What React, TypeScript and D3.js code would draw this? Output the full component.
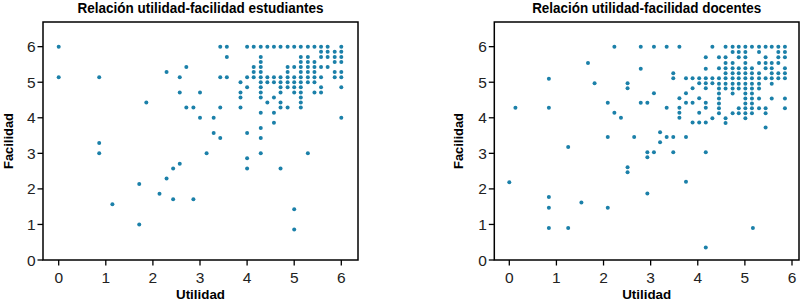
import React from "react";
import * as d3 from "d3";

// Estudiantes: [Utilidad, Facilidad]
const studentPoints: [number, number][] = [
  [0, 6], [0, 5.14], [0.86, 5.14], [0.86, 3.29], [0.86, 3.0], [1.14, 1.57], [1.71, 2.14], [1.71, 1.0],
  [1.86, 4.43], [2.14, 1.86], [2.29, 5.29], [2.29, 2.29], [2.43, 2.57], [2.43, 1.71], [2.57, 5.14],
  [2.57, 4.71], [2.57, 2.71], [2.71, 5.43], [2.71, 4.29], [2.86, 4.29], [2.86, 1.71], [3.0, 4.71],
  [3.0, 4.0], [3.14, 3.0], [3.29, 4.0], [3.29, 3.57], [3.43, 6], [3.43, 5.14], [3.43, 4.29], [3.43, 3.43],
  [3.57, 6], [3.57, 5.71], [3.57, 5.14],
  [3.86, 5.0], [3.86, 4.71], [3.86, 4.57], [3.86, 4.29],
  [4.0, 6], [4.0, 5.14], [4.0, 4.86], [4.0, 3.57], [4.0, 2.86], [4.0, 2.57],
  [4.14, 6], [4.14, 5.43], [4.14, 5.29], [4.14, 5.14],
  [4.29, 6], [4.29, 5.71], [4.29, 5.57], [4.29, 5.43], [4.29, 5.29], [4.29, 5.14], [4.29, 5.0], [4.29, 4.86],
  [4.29, 4.71], [4.29, 4.57], [4.29, 4.14], [4.29, 3.71], [4.29, 3.43], [4.29, 3.0],
  [4.43, 6], [4.43, 5.14], [4.43, 5.0], [4.43, 4.43],
  [4.57, 6], [4.57, 5.14], [4.57, 5.0], [4.57, 4.57], [4.57, 4.14], [4.57, 3.86],
  [4.71, 6], [4.71, 5.14], [4.71, 5.0], [4.71, 4.86], [4.71, 4.71], [4.71, 4.43], [4.71, 4.29], [4.71, 2.57],
  [4.86, 6], [4.86, 5.43], [4.86, 5.29], [4.86, 5.14], [4.86, 5.0], [4.86, 4.86], [4.86, 4.29],
  [5.0, 6], [5.0, 5.43], [5.0, 5.14], [5.0, 5.0], [5.0, 4.86], [5.0, 4.71], [5.0, 1.43], [5.0, 0.86],
  [5.14, 6], [5.14, 5.71], [5.14, 5.57], [5.14, 5.43], [5.14, 5.29], [5.14, 5.14], [5.14, 5.0], [5.14, 4.86],
  [5.14, 4.71], [5.14, 4.57], [5.14, 4.43], [5.14, 4.29],
  [5.29, 6], [5.29, 5.71], [5.29, 5.57], [5.29, 5.43], [5.29, 5.29], [5.29, 5.14], [5.29, 5.0], [5.29, 3.0],
  [5.43, 6], [5.43, 5.57], [5.43, 5.43], [5.43, 5.29], [5.43, 5.14], [5.43, 5.0], [5.43, 4.71],
  [5.57, 6], [5.57, 5.86], [5.57, 5.71], [5.57, 5.43], [5.57, 5.14], [5.57, 4.86], [5.57, 4.71],
  [5.71, 6], [5.71, 5.86], [5.71, 5.71], [5.71, 5.43],
  [5.86, 5.86], [5.86, 5.71], [5.86, 5.57], [5.86, 5.29], [5.86, 5.14],
  [6.0, 6], [6.0, 5.86], [6.0, 5.71], [6.0, 5.57], [6.0, 5.29], [6.0, 5.14], [6.0, 4.86], [6.0, 4.0],
];

// Docentes: [Utilidad, Facilidad]
const teacherPoints: [number, number][] = [
  [0, 2.19], [0.13, 4.28], [0.84, 5.1], [0.84, 4.28], [0.84, 1.77], [0.84, 1.47], [0.84, 0.9],
  [1.25, 3.18], [1.25, 0.9], [1.53, 1.62], [1.67, 5.54], [1.81, 4.97], [2.09, 4.42], [2.09, 3.46],
  [2.09, 1.47], [2.23, 6], [2.23, 4.14], [2.37, 4.0], [2.51, 4.97], [2.51, 4.83], [2.51, 2.61],
  [2.51, 2.47], [2.65, 3.46], [2.79, 6], [2.79, 5.38], [2.79, 4.42], [2.93, 4.42], [2.93, 3.03],
  [2.93, 2.89], [2.93, 1.87], [3.07, 6], [3.07, 4.69], [3.07, 3.03], [3.2, 3.59], [3.2, 3.31],
  [3.34, 6], [3.34, 4.28], [3.34, 3.46], [3.48, 5.25], [3.48, 5.11], [3.48, 3.46], [3.48, 3.03],
  [3.61, 6], [3.61, 4.55], [3.61, 4.28], [3.61, 4.14], [3.61, 4.0],
  [3.75, 5.11], [3.75, 4.69], [3.75, 4.42], [3.75, 3.46], [3.75, 2.2],
  [3.89, 5.11], [3.89, 4.83], [3.89, 4.42], [3.89, 3.87],
  [4.03, 5.11], [4.03, 4.97], [4.03, 4.55], [4.03, 4.14], [4.03, 3.87],
  [4.17, 5.7], [4.17, 5.38], [4.17, 5.11], [4.17, 4.97], [4.17, 4.83], [4.17, 4.42], [4.17, 4.28],
  [4.17, 3.87], [4.17, 3.03], [4.17, 0.35],
  [4.31, 6], [4.31, 5.11], [4.31, 4.97], [4.31, 3.99],
  [4.45, 5.7], [4.45, 5.39], [4.45, 5.11], [4.45, 4.96], [4.45, 4.82], [4.45, 4.68], [4.45, 4.54],
  [4.45, 4.4], [4.45, 4.27], [4.45, 4.13],
  [4.59, 6], [4.59, 5.7], [4.59, 5.54], [4.59, 5.39], [4.59, 5.25], [4.59, 5.11], [4.59, 4.96],
  [4.59, 4.82], [4.59, 3.99], [4.59, 3.85],
  [4.74, 6], [4.74, 5.85], [4.74, 5.54], [4.74, 5.39], [4.74, 5.25], [4.74, 5.11], [4.74, 4.96],
  [4.74, 4.82], [4.74, 4.68], [4.74, 4.13],
  [4.87, 6], [4.87, 5.85], [4.87, 5.7], [4.87, 5.39], [4.87, 5.25], [4.87, 5.11], [4.87, 4.96],
  [4.87, 4.82], [4.87, 4.27], [4.87, 4.13],
  [5.01, 6], [5.01, 5.85], [5.01, 5.7], [5.01, 5.54], [5.01, 5.39], [5.01, 5.25], [5.01, 5.11],
  [5.01, 4.96], [5.01, 4.82], [5.01, 4.68], [5.01, 4.54], [5.01, 4.4], [5.01, 4.27], [5.01, 4.13], [5.01, 3.99],
  [5.15, 6], [5.15, 5.39], [5.15, 5.25], [5.15, 5.11], [5.15, 4.96], [5.15, 4.82], [5.15, 4.68],
  [5.15, 4.54], [5.15, 4.4], [5.15, 4.27], [5.15, 4.13],
  [5.17, 0.9],
  [5.3, 6], [5.3, 5.85], [5.3, 5.54], [5.3, 5.25], [5.3, 5.11], [5.3, 4.96], [5.3, 4.82], [5.3, 4.54], [5.3, 4.27],
  [5.44, 6], [5.44, 5.7], [5.44, 5.54], [5.44, 5.39], [5.44, 5.11], [5.44, 4.27], [5.44, 4.13], [5.44, 3.73],
  [5.57, 6], [5.57, 5.54], [5.57, 5.39], [5.57, 5.25], [5.57, 5.11], [5.57, 4.96], [5.57, 4.54],
  [5.71, 6], [5.71, 5.85], [5.71, 5.7], [5.71, 5.54], [5.71, 5.25], [5.71, 5.11],
  [5.85, 6], [5.85, 5.85], [5.85, 5.7], [5.85, 5.39], [5.85, 5.25], [5.85, 5.11], [5.85, 4.54], [5.85, 4.27],
];

const xTicks = [0, 1, 2, 3, 4, 5, 6];
const yTicks = [0, 1, 2, 3, 4, 5, 6];
const titles = ["Relación utilidad-facilidad estudiantes", "Relación utilidad-facilidad docentes"];
const xLabel = "Utilidad";
const yLabel = "Facilidad";

const DOT = "#1b80a9";
const LABEL_FONT = "'Liberation Sans', Arial, sans-serif";
const TITLE_FONT = "'Liberation Sans Narrow', 'Arial Narrow', 'Liberation Sans', sans-serif";

type PanelProps = {
  points: [number, number][];
  title: string;
  frameLeft: number;
  frameRight: number;
  x0: number;
  x6: number;
  titleWidth: number;
  yLabelX: number;
};

function Panel({ points, title, frameLeft, frameRight, x0, x6, titleWidth, yLabelX }: PanelProps) {
  const frameTop = 22;
  const frameBottom = 260;
  const x = d3.scaleLinear().domain([0, 6]).range([x0, x6]);
  const y = d3.scaleLinear().domain([0, 6]).range([260, 46.67]);
  const cx = (frameLeft + frameRight) / 2;
  const cy = (frameTop + frameBottom) / 2;
  return (
    <g>
      <text
        x={cx}
        y={13}
        textAnchor="middle"
        fontFamily={TITLE_FONT}
        fontWeight="bold"
        fontSize={14}
        textLength={titleWidth}
        lengthAdjust="spacingAndGlyphs"
        fill="#000"
      >
        {title}
      </text>
      <rect
        x={frameLeft}
        y={frameTop}
        width={frameRight - frameLeft}
        height={frameBottom - frameTop}
        fill="none"
        stroke="#000"
        strokeWidth={1.5}
      />
      {yTicks.map((t) => (
        <g key={"y" + t}>
          <line x1={frameLeft - 5.5} x2={frameLeft} y1={y(t)} y2={y(t)} stroke="#000" strokeWidth={1.3} />
          <text
            x={frameLeft - 7.5}
            y={y(t)}
            dy="0.36em"
            textAnchor="end"
            fontFamily={LABEL_FONT}
            fontSize={15.5}
            fill="#222"
          >
            {t}
          </text>
        </g>
      ))}
      {xTicks.map((t) => (
        <g key={"x" + t}>
          <line x1={x(t)} x2={x(t)} y1={frameBottom} y2={frameBottom + 5.5} stroke="#000" strokeWidth={1.3} />
          <text
            x={x(t)}
            y={282.8}
            textAnchor="middle"
            fontFamily={LABEL_FONT}
            fontSize={15.5}
            fill="#222"
          >
            {t}
          </text>
        </g>
      ))}
      <text
        x={cx}
        y={299}
        textAnchor="middle"
        fontFamily={TITLE_FONT}
        fontWeight="bold"
        fontSize={13.5}
        textLength={49}
        lengthAdjust="spacingAndGlyphs"
        fill="#000"
      >
        {xLabel}
      </text>
      <text
        transform={`translate(${yLabelX},${cy}) rotate(-90)`}
        textAnchor="middle"
        fontFamily={TITLE_FONT}
        fontWeight="bold"
        fontSize={13.5}
        textLength={56}
        lengthAdjust="spacingAndGlyphs"
        fill="#000"
      >
        {yLabel}
      </text>
      {points.map((p, i) => (
        <circle key={i} cx={x(p[0])} cy={y(p[1])} r={2} fill={DOT} />
      ))}
    </g>
  );
}

export default function App() {
  return (
    <div style={{ position: "absolute", left: 0, top: 0 }}>
      <svg width={806} height={305} style={{ display: "block", background: "#fff" }}>
        <Panel
          points={studentPoints}
          title={titles[0]}
          frameLeft={43}
          frameRight={358}
          x0={58.7}
          x6={341.3}
          titleWidth={246}
          yLabelX={13.3}
        />
        <Panel
          points={teacherPoints}
          title={titles[1]}
          frameLeft={494.3}
          frameRight={799}
          x0={509.3}
          x6={792}
          titleWidth={229}
          yLabelX={463.3}
        />
      </svg>
    </div>
  );
}
